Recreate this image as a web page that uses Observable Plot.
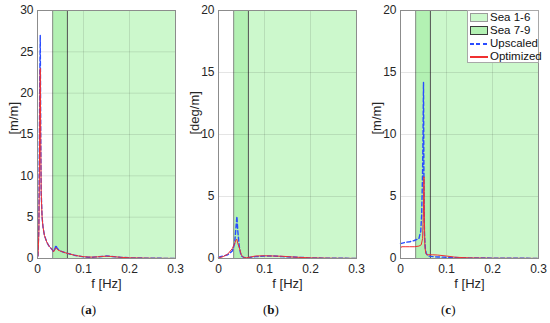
<!DOCTYPE html>
<html>
<head>
<meta charset="utf-8">
<script src="https://cdn.jsdelivr.net/npm/d3@7"></script>
<script src="https://cdn.jsdelivr.net/npm/@observablehq/plot@0.6"></script>
<style>
  html, body { margin: 0; padding: 0; background: #fff; }
  #root { position: relative; width: 550px; height: 323px; font-family: "Liberation Sans", Arial, sans-serif; }
  .panel { position: absolute; top: 0; }
  .plab { position: absolute; top: 302px; font-family: "Liberation Serif", "Times New Roman", serif; font-size: 13px; color: #111; }
  .plab b { font-weight: bold; }
  #legend { position: absolute; left: 467px; top: 10px; width: 72px; height: 53px; border: 1px solid #a8a8a8; background: #fff; box-sizing: border-box; font-size: 11.5px; color: #111; }
  .lrow { position: absolute; left: 0; height: 13px; width: 100%; }
  .lrow span { position: absolute; left: 22px; top: 0; line-height: 13px; }
  .sw { position: absolute; left: 2px; top: 2px; width: 18px; height: 9px; box-sizing: border-box; }
  .ln { position: absolute; left: 2px; top: 6px; width: 18px; height: 1.5px; }
</style>
</head>
<body>
<div id="root"></div>
<script>
// ---- data ----
const xTicks = [0, 0.1, 0.2, 0.3];
const yTicksA = [0, 5, 10, 15, 20, 25, 30];
const yTicksBC = [0, 5, 10, 15, 20];
const panelLabels = ["a", "b", "c"];
const yLabels = ["[m/m]", "[deg/m]", "[m/m]"];
const yMax = [30, 20, 20];
const seaNames = ["Sea 1-6", "Sea 7-9"];
const seaStart = [0.033, 0.033];
const seaEnd = [0.3, 0.065];
const seriesNames = ["Upscaled", "Optimized"];

// panel (a)
const fA = [0.001, 0.003, 0.004, 0.005, 0.006, 0.007, 0.008, 0.01, 0.012, 0.015, 0.02, 0.025, 0.03, 0.033, 0.035, 0.038, 0.04, 0.042, 0.045, 0.05, 0.06, 0.07, 0.08, 0.09, 0.1, 0.11, 0.12, 0.13, 0.14, 0.15, 0.16, 0.17, 0.18, 0.2, 0.25, 0.3];
const upA  = [0.3, 4, 13, 22, 27, 15, 8, 5, 3.8, 2.8, 2.0, 1.5, 1.2, 1.0, 0.8, 1.2, 1.6, 1.3, 1.1, 0.9, 0.7, 0.55, 0.4, 0.3, 0.2, 0.15, 0.15, 0.2, 0.25, 0.3, 0.25, 0.2, 0.15, 0.08, 0.03, 0.01];
const optA = [0.3, 3, 10, 18, 23, 14, 8, 5, 3.8, 2.8, 2.0, 1.5, 1.2, 1.0, 0.8, 1.1, 1.3, 1.2, 1.0, 0.9, 0.7, 0.55, 0.4, 0.3, 0.22, 0.18, 0.17, 0.2, 0.25, 0.28, 0.25, 0.2, 0.15, 0.08, 0.03, 0.01];
// panel (b)
const fB = [0, 0.01, 0.02, 0.03, 0.035, 0.038, 0.04, 0.042, 0.045, 0.048, 0.05, 0.055, 0.06, 0.07, 0.08, 0.1, 0.12, 0.14, 0.16, 0.2, 0.25, 0.3];
const upB  = [0.1, 0.2, 0.3, 0.6, 1.2, 2.5, 3.4, 2.2, 1.0, 0.4, 0.2, 0.08, 0.05, 0.1, 0.15, 0.2, 0.2, 0.15, 0.12, 0.05, 0.02, 0.01];
const optB = [0.05, 0.15, 0.35, 0.8, 1.2, 1.5, 1.55, 1.2, 0.9, 0.5, 0.25, 0.08, 0.05, 0.12, 0.2, 0.22, 0.2, 0.18, 0.12, 0.05, 0.02, 0.01];
// panel (c)
const fCu = [0, 0.01, 0.02, 0.03, 0.04, 0.044, 0.046, 0.048, 0.049, 0.05, 0.051, 0.052, 0.054, 0.056, 0.06, 0.07, 0.08, 0.1, 0.12, 0.15, 0.2, 0.3];
const upC  = [1.2, 1.3, 1.35, 1.45, 1.6, 2.2, 3.5, 7, 10, 14.2, 6, 2, 0.8, 0.4, 0.2, 0.15, 0.12, 0.1, 0.08, 0.05, 0.03, 0.01];
const fCo = [0, 0.002, 0.01, 0.02, 0.03, 0.04, 0.045, 0.048, 0.05, 0.051, 0.052, 0.053, 0.055, 0.058, 0.06, 0.07, 0.08, 0.1, 0.12, 0.15, 0.2, 0.3];
const optC = [0.8, 0.95, 0.95, 0.95, 0.95, 1.0, 1.1, 1.6, 4, 6.6, 3, 1, 0.4, 0.3, 0.3, 0.3, 0.28, 0.2, 0.1, 0.05, 0.02, 0.01];

// ---- build ----
const seaFill = ["#ccf8cc", "#b3f1b3"];
const colUp = "#2a4cff", colOpt = "#f03030";

const seas = seaNames.map((n, i) => ({name: n, x1: seaStart[i], x2: seaEnd[i], fill: seaFill[i]}));
const zip = (f, v) => f.map((x, i) => ({f: x, v: v[i]}));
const panels = [
  {up: zip(fA, upA), opt: zip(fA, optA), yTicks: yTicksA},
  {up: zip(fB, upB), opt: zip(fB, optB), yTicks: yTicksBC},
  {up: zip(fCu, upC), opt: zip(fCo, optC), yTicks: yTicksBC}
];
const lefts = [0, 181, 363];
const labLefts = [81, 263, 441];

const root = document.getElementById("root");
panels.forEach((p, k) => {
  const svg = Plot.plot({
    width: 183, height: 300,
    marginLeft: 37, marginRight: 8, marginTop: 10, marginBottom: 42,
    style: {fontFamily: '"Liberation Sans", Arial, sans-serif', fontSize: "12px", color: "#262626", background: "transparent", overflow: "visible"},
    x: {domain: [0, 0.3], ticks: xTicks, tickFormat: d => d === 0 ? "0" : String(d), tickSize: 0, tickPadding: 6, label: null},
    y: {domain: [0, yMax[k]], ticks: p.yTicks, tickSize: 0, tickPadding: 4, label: null},
    marks: [
      Plot.rect(seas, {x1: "x1", x2: "x2", y1: 0, y2: yMax[k], fill: d => d.fill}),
      Plot.ruleX([seaStart[0]], {stroke: "#8a8a8a", strokeWidth: 1}),
      Plot.ruleX([seaEnd[1]], {stroke: "#505050", strokeWidth: 1}),
      Plot.gridX(xTicks, {stroke: "#000", strokeOpacity: 0.1}),
      Plot.gridY(p.yTicks, {stroke: "#000", strokeOpacity: 0.1}),
      Plot.line(p.up, {x: "f", y: "v", stroke: colUp, strokeWidth: 1.4, strokeDasharray: "4,2.5"}),
      Plot.line(p.opt, {x: "f", y: "v", stroke: colOpt, strokeWidth: 1}),
      Plot.frame({stroke: "#8c8c8c"}),
      Plot.text([yLabels[k]], {frameAnchor: "left", rotate: -90, dx: -24, fontSize: 13, fill: "#262626"}),
      Plot.text(["f [Hz]"], {frameAnchor: "bottom", dy: 29, fontSize: 13, fill: "#262626"})
    ]
  });
  const div = document.createElement("div");
  div.className = "panel";
  div.style.left = lefts[k] + "px";
  div.appendChild(svg);
  root.appendChild(div);
  const lab = document.createElement("div");
  lab.className = "plab";
  lab.style.left = labLefts[k] + "px";
  lab.innerHTML = "(<b>" + panelLabels[k] + "</b>)";
  root.appendChild(lab);
});

// legend
const leg = document.createElement("div");
leg.id = "legend";
const items = [
  {name: seaNames[0], kind: "sw", fill: seaFill[0], stroke: "#9a9a9a"},
  {name: seaNames[1], kind: "sw", fill: seaFill[1], stroke: "#3a3a3a"},
  {name: seriesNames[0], kind: "dash", color: colUp},
  {name: seriesNames[1], kind: "solid", color: colOpt}
];
items.forEach((it, i) => {
  const row = document.createElement("div");
  row.className = "lrow";
  row.style.top = (0 + i * 13) + "px";
  const m = document.createElement("div");
  if (it.kind === "sw") {
    m.className = "sw";
    m.style.background = it.fill;
    m.style.border = "1px solid " + it.stroke;
  } else {
    m.className = "ln";
    m.style.background = it.kind === "dash"
      ? "repeating-linear-gradient(to right, " + it.color + " 0 4px, transparent 4px 6.5px)"
      : it.color;
  }
  row.appendChild(m);
  const s = document.createElement("span");
  s.textContent = it.name;
  row.appendChild(s);
  leg.appendChild(row);
});
root.appendChild(leg);
</script>
</body>
</html>
